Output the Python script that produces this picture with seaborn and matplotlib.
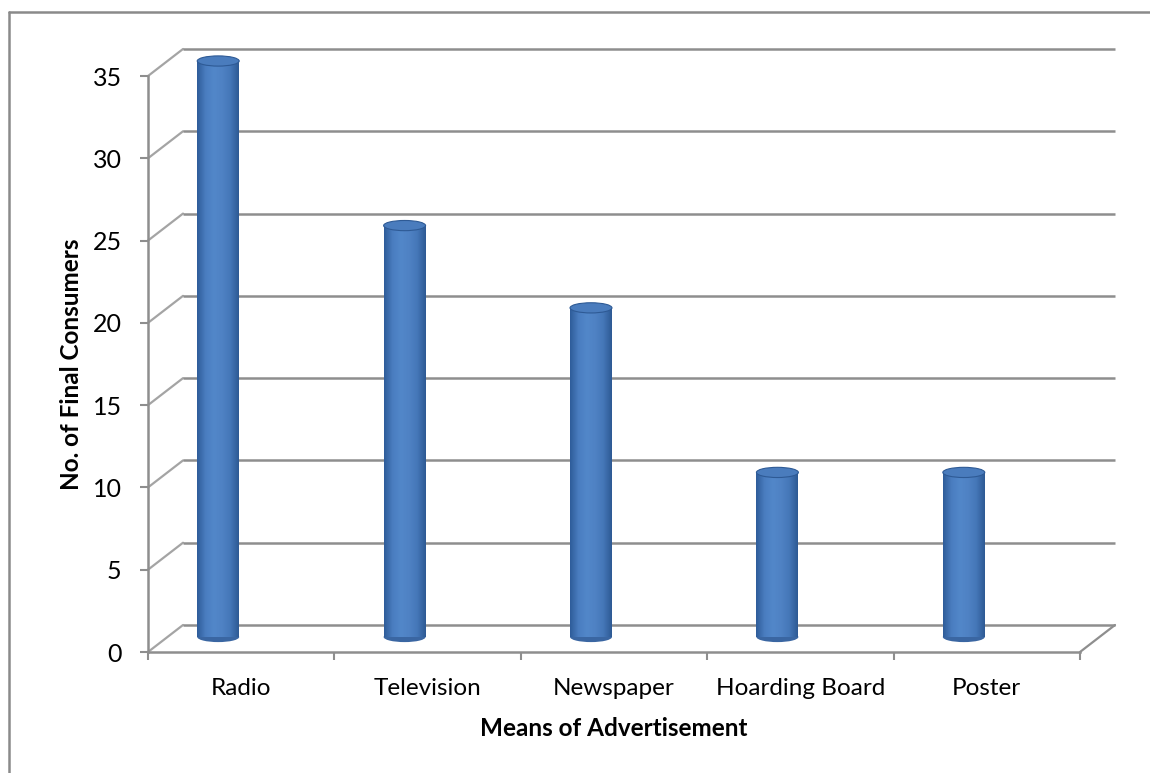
import numpy as np
import pandas as pd
import matplotlib
matplotlib.use("Agg")
import matplotlib.pyplot as plt
import seaborn as sns
from matplotlib.transforms import ScaledTranslation, IdentityTransform
from matplotlib.patches import Ellipse
from matplotlib.lines import Line2D
from matplotlib.colors import LinearSegmentedColormap

# Data
categories = ["Radio", "Television", "Newspaper", "Hoarding Board", "Poster"]
consumers = [35, 25, 20, 10, 10]
y_ticks = [0, 5, 10, 15, 20, 25, 30, 35]

sns.set_theme(style="white")
plt.rcParams["font.family"] = ["Lato", "DejaVu Sans"]

W, H = 1150, 773
DPI = 100
fig = plt.figure(figsize=(W / DPI, H / DPI), dpi=DPI)
fig.patch.set_facecolor("white")

# front plane of the 3-D box
ax = fig.add_axes([148 / W, (H - 652) / H, (1080 - 148) / W, (652 - 76) / H])
ax.patch.set_alpha(0)

df = pd.DataFrame({"Means": categories, "Consumers": consumers})
sns.barplot(data=df, x="Means", y="Consumers", ax=ax, width=0.225,
            color="#4a7ebb", saturation=1, edgecolor="none", zorder=5)

ax.set_xlim(-0.5, len(categories) - 0.5)
ax.set_ylim(0, 35)

grid_col = "#8e8e8e"
px = lambda v: v / DPI

# back wall (depth offset) and bar offset transforms
back = ax.transData + ScaledTranslation(px(35), px(27), fig.dpi_scale_trans)
bar_tr = ax.transData + ScaledTranslation(px(-23), px(15), fig.dpi_scale_trans)

x0, x1 = ax.get_xlim()
for v in y_ticks:
    ax.plot([x0, x1], [v, v], transform=back, color=grid_col, lw=1.8,
            clip_on=False, zorder=1, solid_capstyle="butt")
    # side wall diagonal
    pf = ax.transData.transform((x0, v))
    pb = back.transform((x0, v))
    fig.add_artist(Line2D([pf[0], pb[0]], [pf[1], pb[1]], transform=IdentityTransform(),
                          color=grid_col, lw=1.6, alpha=0.8, zorder=1))

# floor right diagonal
pf = ax.transData.transform((x1, 0))
pb = back.transform((x1, 0))
fig.add_artist(Line2D([pf[0], pb[0]], [pf[1], pb[1]], transform=IdentityTransform(),
                      color=grid_col, lw=1.6, zorder=1))

# cylinder shading
cyl = LinearSegmentedColormap.from_list(
    "cyl", ["#2f5d9a", "#4a7dc0", "#5287c9", "#4f82c4", "#4577b8", "#2e5a95"])
grad = np.linspace(0, 1, 64)[None, :]
cap_h = 0.62

for p in list(ax.patches):
    x = p.get_x()
    w = p.get_width()
    h = p.get_height()
    p.set_transform(bar_tr)
    p.set_clip_on(False)
    # bottom rounded base
    base = Ellipse((x + w / 2, 0), width=w, height=cap_h, transform=bar_tr,
                   facecolor="#3a66a2", edgecolor="none", zorder=4, clip_on=False)
    ax.add_patch(base)
    im = ax.imshow(grad, cmap=cyl, extent=[x, x + w, 0, h], aspect="auto",
                   transform=bar_tr, zorder=6, interpolation="bilinear")
    im.set_clip_path(p)
    top = Ellipse((x + w / 2, h), width=w, height=cap_h, transform=bar_tr,
                  facecolor="#4a7cbd", edgecolor="#2e5a95", lw=0.8, zorder=7,
                  clip_on=False)
    ax.add_patch(top)

ax.set_xlim(-0.5, len(categories) - 0.5)
ax.set_ylim(0, 35)

# axes styling
for s in ["top", "right"]:
    ax.spines[s].set_visible(False)
for s in ["left", "bottom"]:
    ax.spines[s].set_color(grid_col)
    ax.spines[s].set_linewidth(1.8)
    ax.spines[s].set_zorder(2)

ax.set_yticks(y_ticks)
ax.set_yticklabels([str(v) for v in y_ticks])
ax.tick_params(axis="y", which="major", length=6, width=1.5, color=grid_col,
               pad=13, labelsize=18, labelcolor="black", left=True)

ax.set_xticks(range(len(categories)))
ax.set_xticklabels(categories)
ax.set_xticks(np.arange(-0.5, len(categories)), minor=True)
ax.tick_params(axis="x", which="major", length=0, pad=19, labelsize=17.5,
               labelcolor="black")
ax.tick_params(axis="x", which="minor", length=6, width=1.5, color=grid_col,
               bottom=True)

ax.set_xlabel("Means of Advertisement", fontsize=17.5, fontweight="bold", color="black")
ax.set_ylabel("No. of Final Consumers", fontsize=17.5, fontweight="bold", color="black")
ax.xaxis.set_label_coords(0.5, -(717 - 652) / (652 - 76))
ax.yaxis.set_label_coords(-(148 - 83) / (1080 - 148), 0.5)

# chart area border
fig.add_artist(Line2D([9 / W, 9 / W], [0, 1 - 12 / H], transform=fig.transFigure,
                      color="#8a8a8a", lw=1.8))
fig.add_artist(Line2D([9 / W, 1], [1 - 12 / H, 1 - 12 / H], transform=fig.transFigure,
                      color="#8a8a8a", lw=1.8))

fig.savefig("out.png", dpi=DPI, facecolor="white")
